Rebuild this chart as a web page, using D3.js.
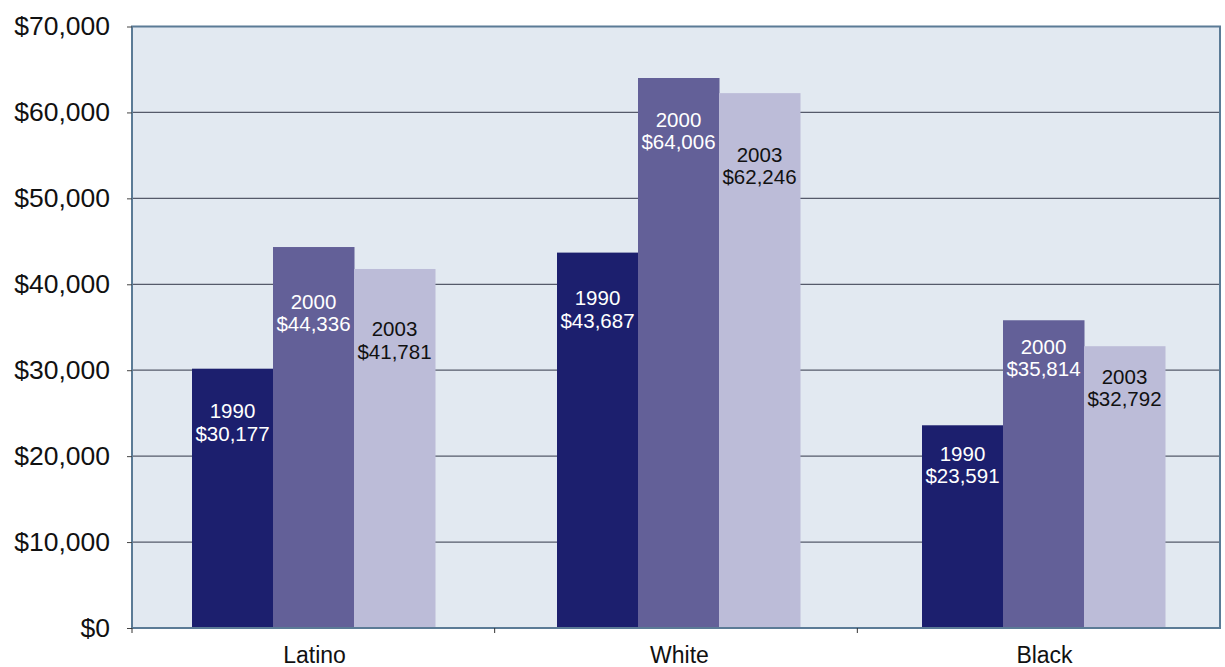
<!DOCTYPE html>
<html>
<head>
<meta charset="utf-8">
<script src="https://cdn.jsdelivr.net/npm/d3@7"></script>
<style>
  body { margin: 0; background: #fff; }
  svg { display: block; font-family: "Liberation Sans", Arial, sans-serif; }
</style>
</head>
<body>
<svg id="chart" width="1225" height="667"></svg>
<script>
const groups = ["Latino", "White", "Black"];
const years = ["1990", "2000", "2003"];
const income1990 = [30177, 43687, 23591];
const income2000 = [44336, 64006, 35814];
const income2003 = [41781, 62246, 32792];
const yTicks = [0, 10000, 20000, 30000, 40000, 50000, 60000, 70000];

// label drop below the bar top, per group then per year (px)
const labelDrop = [[42, 54, 60], [45, 41, 61], [28, 26, 30]];

const colors = ["#1c1f6e", "#636098", "#bcbcd8"];
const labelColors = ["#ffffff", "#ffffff", "#111111"];

const margin = {top: 26.5, right: 5, bottom: 39, left: 132};
const width = 1225, height = 667;

const svg = d3.select("#chart");

// category bands for the axis separators
const x0 = d3.scaleBand()
  .domain(groups)
  .range([margin.left, width - margin.right]);

// bar clusters sit a little wider apart than the axis bands
const xBars = d3.scaleBand()
  .domain(groups)
  .range([margin.left, margin.left + 1095]);

const x1 = d3.scaleBand()
  .domain(years)
  .range([60, 303]);

const y = d3.scaleLinear()
  .domain([0, 70000])
  .range([height - margin.bottom, margin.top]);

// plot background
svg.append("rect")
  .attr("x", margin.left)
  .attr("y", margin.top)
  .attr("width", width - margin.right - margin.left)
  .attr("height", y(0) - margin.top)
  .attr("fill", "#e2e9f1");

// gridlines
svg.append("g")
  .selectAll("line")
  .data(yTicks.slice(1, -1)).enter()
  .append("line")
  .attr("x1", margin.left)
  .attr("x2", width - margin.right)
  .attr("y1", d => y(d))
  .attr("y2", d => y(d))
  .attr("stroke", "#555a6a")
  .attr("stroke-width", 1.3);

// bars
const rows = groups.map((g, i) => [income1990[i], income2000[i], income2003[i]]);

const gGroups = svg.append("g")
  .selectAll("g")
  .data(groups).enter()
  .append("g")
  .attr("transform", d => `translate(${xBars(d)},0)`);

gGroups.selectAll("rect")
  .data((g, gi) => years.map((yr, k) => ({yr, k, v: rows[gi][k]}))).enter()
  .append("rect")
  .attr("x", d => x1(d.yr))
  .attr("width", x1.bandwidth() + 0.5)
  .attr("y", d => y(d.v))
  .attr("height", d => y(0) - y(d.v))
  .attr("fill", d => colors[d.k]);

// bar labels
gGroups.each(function(g, gi) {
  const sel = d3.select(this);
  years.forEach((yr, k) => {
    const v = rows[gi][k];
    const cx = x1(yr) + x1.bandwidth() / 2;
    const cy = y(v) + labelDrop[gi][k];
    const t = sel.append("text")
      .attr("text-anchor", "middle")
      .attr("font-size", 20.5)
      .attr("fill", labelColors[k]);
    t.append("tspan").attr("x", cx).attr("y", cy + 7.5).text(yr);
    t.append("tspan").attr("x", cx).attr("y", cy + 30).text("$" + d3.format(",")(v));
  });
});

// frame
svg.append("rect")
  .attr("x", margin.left)
  .attr("y", margin.top)
  .attr("width", width - margin.right - margin.left)
  .attr("height", y(0) - margin.top)
  .attr("fill", "none")
  .attr("stroke", "#5b7b96")
  .attr("stroke-width", 2);

// y axis
const yAxis = svg.append("g")
  .attr("transform", `translate(${margin.left},0)`)
  .call(d3.axisLeft(y).tickValues(yTicks).tickSize(5).tickPadding(17)
    .tickFormat(d => "$" + d3.format(",")(d)));
yAxis.select(".domain").remove();
yAxis.selectAll("line").attr("stroke", "#444");
yAxis.selectAll("text")
  .attr("font-size", 26.5)
  .attr("font-family", "Liberation Sans, Arial, sans-serif")
  .attr("fill", "#111");

// x axis labels, centred under the bar clusters
const xAxis = svg.append("g")
  .attr("transform", `translate(0,${y(0)})`)
  .call(d3.axisBottom(xBars).tickSize(0).tickPadding(19));
xAxis.select(".domain").remove();
xAxis.selectAll("text")
  .attr("font-size", 23)
  .attr("font-family", "Liberation Sans, Arial, sans-serif")
  .attr("fill", "#111");

// category separators
svg.append("g")
  .selectAll("line")
  .data(groups.slice(1)).enter()
  .append("line")
  .attr("x1", d => x0(d))
  .attr("x2", d => x0(d))
  .attr("y1", y(0))
  .attr("y2", y(0) + 5)
  .attr("stroke", "#333");
svg.append("line")
  .attr("x1", margin.left).attr("x2", margin.left)
  .attr("y1", y(0)).attr("y2", y(0) + 5)
  .attr("stroke", "#333");
</script>
</body>
</html>
